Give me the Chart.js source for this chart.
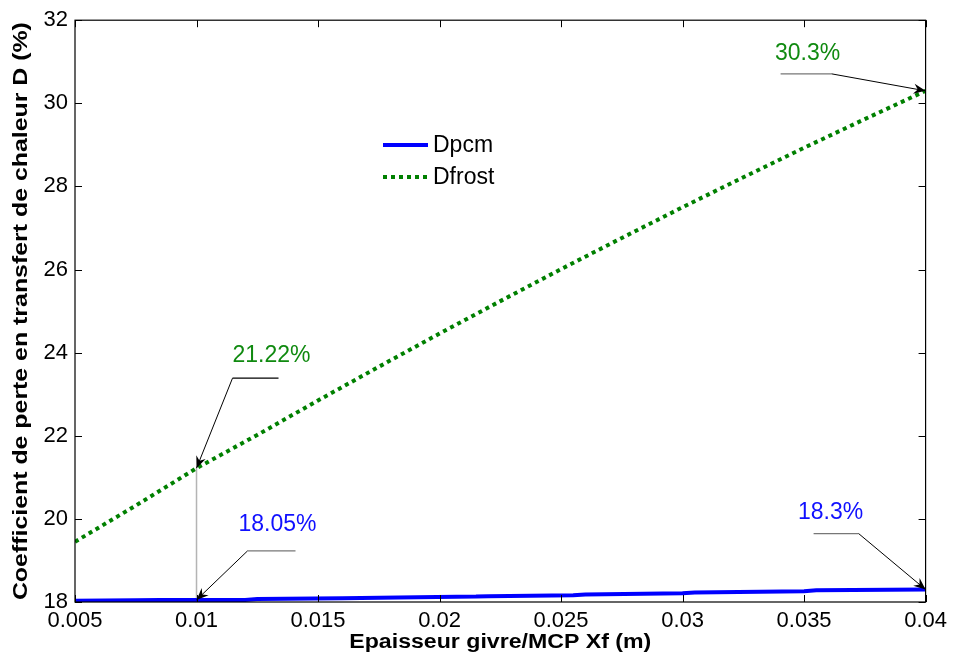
<!DOCTYPE html>
<html>
<head>
<meta charset="utf-8">
<script src="https://cdn.jsdelivr.net/npm/chart.js@4.4.1/dist/chart.umd.min.js"></script>
<style>
  html, body { margin: 0; padding: 0; background: #fff; }
  #wrap { width: 953px; height: 656px; position: relative; }
</style>
</head>
<body>
<div id="wrap"><canvas id="c" width="953" height="656"></canvas></div>
<script>
// Frost / PCM layer thickness (m)
const frostX = [0.005, 0.0075, 0.01, 0.0125, 0.015, 0.0175, 0.02, 0.0225, 0.025, 0.0275, 0.03, 0.0325, 0.035, 0.0375, 0.04];
// Heat transfer loss coefficient with frost (%)
const frostD = [19.45, 20.32, 21.22, 22.02, 22.85, 23.66, 24.46, 25.24, 26.01, 26.76, 27.50, 28.22, 28.93, 29.62, 30.30];

const pcmX = [0.005, 0.0075, 0.0085, 0.012, 0.0125, 0.016, 0.0183, 0.0215, 0.022, 0.0255, 0.026, 0.030, 0.0305, 0.035, 0.0355, 0.04];
// Heat transfer loss coefficient with PCM (%)
const pcmD = [18.03, 18.045, 18.05, 18.05, 18.07, 18.09, 18.11, 18.13, 18.14, 18.16, 18.18, 18.21, 18.23, 18.26, 18.28, 18.30];

const xTickLabels = ['0.005', '0.01', '0.015', '0.02', '0.025', '0.03', '0.035', '0.04'];
const yTickLabels = ['18', '20', '22', '24', '26', '28', '30', '32'];

const seriesNames = ['Dpcm', 'Dfrost'];
const xTitle = 'Epaisseur givre/MCP Xf (m)';
const yTitle = 'Coefficient de perte en transfert de chaleur D (%)';

// Callouts pointing at a curve value, offsets in pixels from the arrow tip
const callouts = [
  { data: 'frost', x: 0.01, color: '#108a10', tail: [36, -90], shelf: [82, -90], text: [75, -113], shelfColor: '#000' },
  { data: 'pcm',   x: 0.01, color: '#1010ff', tail: [51, -49], shelf: [99, -49], text: [81, -75], shelfColor: '#777' },
  { data: 'frost', x: 0.04, color: '#108a10', tail: [-94, -17], shelf: [-145, -17], text: [-118, -37], shelfColor: '#777' },
  { data: 'pcm',   x: 0.04, color: '#1010ff', tail: [-67, -56], shelf: [-112, -56], text: [-95, -77], shelfColor: '#777' }
];

function valueAt(kind, x) {
  const xs = kind === 'frost' ? frostX : pcmX;
  const ys = kind === 'frost' ? frostD : pcmD;
  const i = xs.findIndex(v => Math.abs(v - x) < 1e-9);
  if (i >= 0) return ys[i];
  for (let k = 0; k < xs.length - 1; k++) {
    if (x >= xs[k] && x <= xs[k + 1]) return ys[k];
  }
  return ys[ys.length - 1];
}

const FONT = '"Liberation Sans", Arial, sans-serif';

function arrowHead(ctx, fx, fy, tx, ty) {
  const ang = Math.atan2(ty - fy, tx - fx);
  const L = 12, W = 5, notch = 8;
  ctx.save();
  ctx.translate(tx, ty);
  ctx.rotate(ang);
  ctx.beginPath();
  ctx.moveTo(0, 0);
  ctx.lineTo(-L, -W);
  ctx.lineTo(-notch, 0);
  ctx.lineTo(-L, W);
  ctx.closePath();
  ctx.fillStyle = '#000';
  ctx.fill();
  ctx.restore();
}

// draws text centred at (cx, cy), squeezed/stretched along its run to a given length
function fitText(ctx, text, cx, cy, length, rotation) {
  ctx.save();
  ctx.translate(cx, cy);
  ctx.rotate(rotation);
  const w = ctx.measureText(text).width;
  ctx.scale(length / w, 1);
  ctx.textAlign = 'center';
  ctx.textBaseline = 'middle';
  ctx.fillText(text, 0, 0);
  ctx.restore();
}

const framePlugin = {
  id: 'frame',
  beforeDatasetsDraw(chart) {
    const { ctx, scales: { x, y } } = chart;
    // thin grey drop line at x = 0.01 below the frost curve
    const px = x.getPixelForValue(0.01);
    ctx.save();
    ctx.strokeStyle = '#b4b4b4';
    ctx.lineWidth = 1.5;
    ctx.beginPath();
    ctx.moveTo(px, y.getPixelForValue(valueAt('frost', 0.01)));
    ctx.lineTo(px, y.bottom);
    ctx.stroke();
    ctx.restore();
  },
  afterDraw(chart) {
    const { ctx, chartArea: a, scales: { x, y } } = chart;
    ctx.save();
    // box and inward ticks on all four sides
    ctx.strokeStyle = '#000';
    ctx.lineWidth = 1.2;
    ctx.strokeRect(a.left, a.top, a.right - a.left, a.bottom - a.top);
    const tl = 7;
    ctx.beginPath();
    x.ticks.forEach(t => {
      const p = Math.round(x.getPixelForValue(t.value)) + 0.5;
      ctx.moveTo(p, a.bottom); ctx.lineTo(p, a.bottom - tl);
      ctx.moveTo(p, a.top); ctx.lineTo(p, a.top + tl);
    });
    y.ticks.forEach(t => {
      const p = Math.round(y.getPixelForValue(t.value)) + 0.5;
      ctx.moveTo(a.left, p); ctx.lineTo(a.left + tl, p);
      ctx.moveTo(a.right, p); ctx.lineTo(a.right - tl, p);
    });
    ctx.lineWidth = 1;
    ctx.stroke();

    // axis titles
    ctx.fillStyle = '#000';
    ctx.font = 'bold 20px ' + FONT;
    fitText(ctx, xTitle, (a.left + a.right) / 2, 642, 302, 0);
    ctx.font = 'bold 21px ' + FONT;
    fitText(ctx, yTitle, 21, (a.top + a.bottom) / 2, 578, -Math.PI / 2);

    // legend
    const lx = 383, ly = [145, 177];
    chart.data.datasets.forEach((ds, i) => {
      ctx.beginPath();
      ctx.strokeStyle = ds.borderColor;
      ctx.lineWidth = ds.borderWidth;
      ctx.setLineDash(ds.borderDash || []);
      ctx.moveTo(lx, ly[i]);
      ctx.lineTo(lx + 45, ly[i]);
      ctx.stroke();
      ctx.setLineDash([]);
      ctx.fillStyle = '#000';
      ctx.font = '23px ' + FONT;
      ctx.textAlign = 'left';
      ctx.textBaseline = 'middle';
      ctx.fillText(ds.label, lx + 50, ly[i] + 1);
    });

    // value callouts
    callouts.forEach(c => {
      const v = valueAt(c.data, c.x);
      const tx = x.getPixelForValue(c.x);
      const ty = y.getPixelForValue(v);
      const ax = tx + c.tail[0], ay = ty + c.tail[1];
      ctx.lineWidth = 1.2;
      ctx.strokeStyle = c.shelfColor;
      ctx.beginPath();
      ctx.moveTo(ax, ay);
      ctx.lineTo(tx + c.shelf[0], ty + c.shelf[1]);
      ctx.stroke();
      ctx.strokeStyle = '#000';
      ctx.lineWidth = 1;
      ctx.beginPath();
      ctx.moveTo(ax, ay);
      ctx.lineTo(tx, ty);
      ctx.stroke();
      arrowHead(ctx, ax, ay, tx, ty);
      ctx.fillStyle = c.color;
      ctx.font = '23px ' + FONT;
      ctx.textAlign = 'center';
      ctx.textBaseline = 'middle';
      ctx.fillText(v + '%', tx + c.text[0], ty + c.text[1]);
    });
    ctx.restore();
  }
};

new Chart(document.getElementById('c'), {
  type: 'line',
  data: {
    datasets: [
      {
        label: seriesNames[0],
        data: pcmX.map((v, i) => ({ x: v, y: pcmD[i] })),
        borderColor: '#0000ff',
        borderWidth: 4,
        pointRadius: 0,
        tension: 0,
        fill: false
      },
      {
        label: seriesNames[1],
        data: frostX.map((v, i) => ({ x: v, y: frostD[i] })),
        borderColor: '#008000',
        borderWidth: 4,
        borderDash: [4, 4],
        pointRadius: 0,
        tension: 0,
        fill: false
      }
    ]
  },
  options: {
    responsive: false,
    animation: false,
    layout: { padding: { left: 0, right: 24, top: 20, bottom: 0 } },
    plugins: { legend: { display: false }, tooltip: { enabled: false } },
    scales: {
      x: {
        type: 'linear',
        min: 0.005,
        max: 0.04,
        afterBuildTicks: s => { s.ticks = xTickLabels.map(t => ({ value: parseFloat(t) })); },
        afterFit: s => { s.height = 54; },
        grid: { display: false, drawTicks: false },
        border: { display: false },
        ticks: {
          padding: 6,
          maxRotation: 0,
          autoSkip: false,
          color: '#000',
          font: { family: FONT, size: 22 },
          callback: (v, i) => xTickLabels[i]
        }
      },
      y: {
        type: 'linear',
        min: 18,
        max: 32,
        afterBuildTicks: s => { s.ticks = yTickLabels.map(t => ({ value: parseFloat(t) })); },
        afterFit: s => { s.width = 75; },
        grid: { display: false, drawTicks: false },
        border: { display: false },
        ticks: {
          padding: 7,
          color: '#000',
          font: { family: FONT, size: 22 },
          callback: (v, i) => yTickLabels[i]
        }
      }
    }
  },
  plugins: [framePlugin]
});
</script>
</body>
</html>
